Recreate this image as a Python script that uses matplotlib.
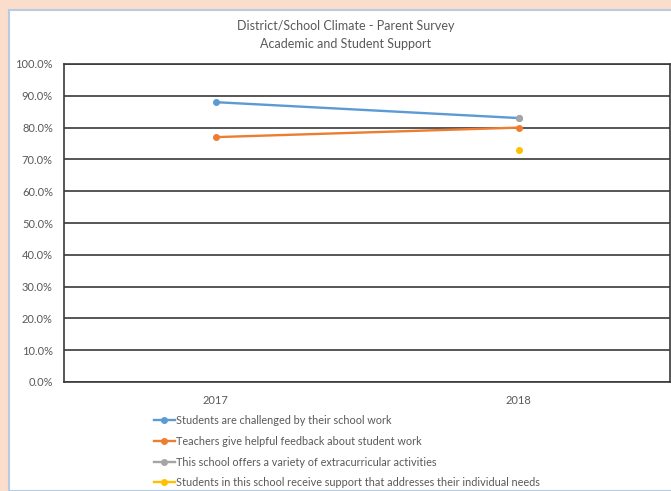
import matplotlib.pyplot as plt
import numpy as np
from matplotlib.patches import Rectangle
from matplotlib.ticker import PercentFormatter

plt.rcParams['font.family'] = ['Lato', 'DejaVu Sans']

years = ['2017', '2018']
challenged = [88.0, 83.0]
feedback = [77.0, 80.0]
extracurricular = [np.nan, 83.0]
individual = [np.nan, 73.0]

labels = ['Students are challenged by their school work',
          'Teachers give helpful feedback about student work',
          'This school offers a variety of extracurricular activities',
          'Students in this school receive support that addresses their individual needs']
colors = ['#5B9BD5', '#ED7D31', '#A5A5A5', '#FFC000']

fig = plt.figure(figsize=(6.71, 4.91), dpi=100)
fig.patch.set_facecolor('#FADDCB')
# white chart panel with light blue edge
fig.patches.append(Rectangle((9 / 671, 0), 1, 1 - 10 / 491, transform=fig.transFigure,
                             facecolor='white', edgecolor='#B7CCE0', linewidth=1.5, zorder=-10))

ax = fig.add_axes([64 / 671, 109 / 491, 606 / 671, 318 / 491])
x = np.arange(len(years))
series = [challenged, feedback, extracurricular, individual]
for vals, c, lab in zip(series, colors, labels):
    ax.plot(x, vals, color=c, lw=1.7, marker='o', ms=4, label=lab)

ax.set_xlim(-0.5, 1.5)
ax.set_ylim(0, 100)
ax.set_yticks(np.arange(0, 101, 10))
ax.yaxis.set_major_formatter(PercentFormatter(decimals=1))
ax.set_xticks(x)
ax.set_xticklabels(years)
ax.grid(axis='y', color='#3A3A3A', lw=1.2)
ax.set_axisbelow(True)
for s in ax.spines.values():
    s.set_color('#3A3A3A')
    s.set_linewidth(1.2)
ax.tick_params(axis='both', length=0, labelsize=8, colors='#595959', pad=8)
ax.tick_params(axis='x', pad=9)

fig.text(346 / 671, 1 - 26 / 491, 'District/School Climate - Parent Survey',
         ha='center', va='center', fontsize=9, color='#595959')
fig.text(346 / 671, 1 - 44 / 491, 'Academic and Student Support',
         ha='center', va='center', fontsize=9, color='#595959')

fig.legend(loc='upper left', bbox_to_anchor=(154 / 671, 1 - 415 / 491), frameon=False,
           fontsize=7.8, labelcolor='#595959', handlelength=1.9, handletextpad=0.1,
           labelspacing=0.9, borderaxespad=0, borderpad=0)

plt.savefig('out.png', dpi=100, facecolor=fig.get_facecolor())
